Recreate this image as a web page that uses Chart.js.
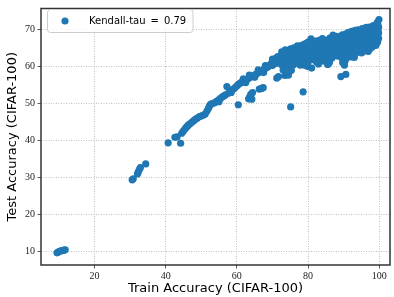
<!DOCTYPE html>
<html>
<head>
<meta charset="utf-8">
<script src="https://cdn.jsdelivr.net/npm/chart.js@4.4.1/dist/chart.umd.min.js"></script>
<style>
  html, body { margin: 0; padding: 0; background: #fff; }
  canvas { display: block; }
</style>
</head>
<body>
<canvas id="scatter" width="394" height="297"></canvas>
<script>
// train / test accuracy pairs
const kendallTau = 0.79;
const xTicks = [20, 40, 60, 80, 100];
const yTicks = [10, 20, 30, 40, 50, 60, 70];

const lowCluster = [[9.5,9.6],[9.8,9.8],[10.2,10.0],[10.6,10.1],[11.0,10.2],[11.4,10.3],[11.8,10.4]];
const midCluster = [[30.6,29.3],[30.9,29.6],[32.1,30.9],[32.3,31.4],[32.6,32.1],[32.9,32.6],[34.4,33.6]];
const rampRuns = [
  [40.7,39.3],[42.6,40.8],[43.2,40.9],[44.2,39.2],[44.5,41.9],[44.9,42.4],[45.3,42.9],[45.7,43.4],
  [46.1,43.8],[46.5,44.2],[47.0,44.6],[47.5,45.0],[47.9,45.3],[48.4,45.7],[48.9,46.0],[49.5,46.4],
  [50.1,46.6],[50.6,46.8],[51.1,47.1],[51.6,47.9],[52.0,48.6],[52.3,49.2],[52.6,49.7],[53.1,49.9],
  [53.7,50.1],[54.3,50.5],[54.9,50.9],[55.4,51.3],[55.9,51.7],[56.4,52.0],[56.8,52.3],[57.2,54.5],
  [57.6,52.7],[58.1,53.1],[58.6,53.5],[59.1,53.9],[59.6,54.3],[60.1,54.8],[60.5,55.2],[61.0,55.5],
  [61.4,55.7],[61.9,55.9],[62.3,56.2],[62.9,56.5],[63.4,56.8],[64.0,57.1],[64.5,57.4],[65.1,57.7],
  [65.6,58.0],[66.2,58.3],[66.7,58.6],[67.2,58.9],[67.7,59.2],[68.2,59.5],[68.7,59.8],[69.2,60.3],
  [69.7,60.8],[70.2,61.3],[70.6,61.8],[71.1,62.3],
  [55.0,50.4],[58.4,52.9],[61.8,56.6],[63.5,57.6],[66.0,59.0],[68.0,60.2],[70.0,61.9],[71.5,62.6],
  [62.5,55.6],[65.0,57.0],[67.5,58.3],[70.0,60.2],[71.0,60.8]
];
const lowerRuns = [
  [60.4,49.6],[63.3,51.2],[63.6,51.7],[63.9,52.4],[64.2,51.1],[64.4,52.9],[66.3,53.8],[66.9,54.0],
  [67.4,54.2],[71.2,56.8],[71.7,57.2],[73.5,57.5],[74.0,58.0],[74.5,57.6],[75.3,58.9],[75.1,49.0],
  [78.6,53.1],[89.2,57.2],[90.6,57.8],[90.2,60.3],[85.5,60.5]
];
const plateauRuns = [
  [72.0,62.7],[72.3,61.5],[72.7,63.1],[73.0,59.0],[73.1,62.0],[73.5,60.8],[73.8,63.6],[74.2,61.3],
  [74.4,59.9],[74.8,62.4],[75.1,64.7],[75.4,63.2],[75.6,61.6],[75.9,60.4],[76.2,63.9],[76.5,64.3],
  [76.8,62.5],[77.2,61.1],[77.5,63.5],[77.8,60.3],[78.1,62.2],[78.4,64.6],[78.7,63.1],[79.0,65.1],
  [79.3,61.5],[79.6,62.9],[79.9,59.9],[80.2,64.1],[80.4,66.0],[80.8,67.4],[81.1,63.3],[81.5,61.8],
  [81.8,65.3],[82.1,66.8],[82.5,64.2],[82.8,62.5],[83.1,67.0],[83.4,65.1],[83.7,63.4],[84.1,66.8],
  [84.4,61.4],[84.7,64.6],[85.0,62.8],[85.3,66.1],[85.8,64.0],[86.1,67.6],[86.4,65.3],[86.7,62.2],
  [86.9,67.9],[87.2,63.8],[87.5,66.4],[87.8,64.9],[88.1,68.1],[88.3,62.8],[88.6,65.7],[88.9,67.1],
  [89.2,64.0],[89.6,68.5],[89.7,61.0],[90.0,66.3],[90.3,63.2],[90.5,68.7],[90.8,64.9],
  [76.0,65.0],[80.0,61.0],[82.9,60.6],[86.0,61.0],[78.0,65.6],[84.0,67.5],[87.0,68.4],[81.0,59.5],
  [72.6,63.9],[73.6,64.4],[72.5,60.5],[74.0,62.9],[74.6,64.0],[73.0,61.0],
  [77.0,65.5],[78.8,65.9],[79.5,66.2],[80.0,66.5],[76.5,61.5],[78.5,60.6],[79.2,60.2],[76.0,62.2],
  [77.6,62.4],[78.3,61.0],[79.0,63.8],[77.0,64.3],[75.6,62.8],[74.0,60.9],
  [80.5,62.5],[81.0,64.8],[81.6,66.5],[82.0,63.8],[82.3,61.2],[82.7,65.8],[83.2,63.8],[83.6,61.8],
  [84.0,65.5],[84.6,63.0],[85.0,67.0],[85.2,64.3],[85.7,62.6],[86.3,63.8],[86.6,66.3],[87.0,62.9],
  [87.6,67.6],[87.9,63.2],[88.4,64.2],[88.8,66.2],[89.3,62.4],[89.5,65.4],[89.9,67.5],[90.2,65.4],
  [90.6,66.4],[90.8,67.8],[90.4,61.5]
];
const topRuns = [
  [91.0,63.4],[91.0,65.0],[91.0,66.6],[91.0,68.1],[91.2,69.1],
  [92.0,62.5],[92.0,64.1],[92.0,65.6],[92.0,67.1],[92.0,68.5],[92.2,69.4],
  [93.0,62.4],[93.0,63.5],[93.0,65.0],[93.0,66.5],[93.0,68.0],[93.0,69.3],[93.2,69.7],
  [94.0,63.8],[94.0,65.4],[94.0,66.9],[94.0,68.4],[94.0,69.8],
  [95.0,63.6],[95.0,65.0],[95.0,66.5],[95.0,68.0],[95.0,69.4],[95.2,70.2],
  [96.0,64.2],[96.0,65.8],[96.0,67.2],[96.0,68.6],[96.0,70.0],[96.3,70.5],
  [96.9,64.0],[97.0,65.4],[97.0,66.8],[97.0,68.2],[97.0,69.6],[97.2,70.6],
  [98.0,65.2],[98.0,66.5],[98.0,67.8],[98.0,69.2],[98.0,70.4],[98.3,71.0],
  [99.0,65.6],[99.0,67.0],[99.0,68.4],[99.0,69.8],[99.0,71.0],
  [99.5,66.5],[99.5,68.0],[99.5,69.5],[99.6,71.2],[99.4,71.8],[99.9,72.6],
  [99.8,67.5],[99.8,69.0],[99.8,70.5],[91.5,64.2],[93.5,64.2],[95.5,64.5],[97.5,64.8],[90.5,62.0]
];

const blue = '#1f77b4';
const allRuns = [...lowCluster, ...midCluster, ...rampRuns, ...lowerRuns, ...plateauRuns, ...topRuns];

// matplotlib-ish frame + legend box
const framePlugin = {
  id: 'frame',
  afterDraw(chart) {
    const {ctx, chartArea: a} = chart;
    ctx.save();
    ctx.strokeStyle = '#333333';
    ctx.lineWidth = 1.5;
    ctx.strokeRect(a.left, a.top, a.right - a.left, a.bottom - a.top);

    // legend
    const x0 = 47.5, y0 = 9.5, w = 145.5, h = 23, r = 3;
    ctx.beginPath();
    ctx.moveTo(x0 + r, y0);
    ctx.arcTo(x0 + w, y0, x0 + w, y0 + h, r);
    ctx.arcTo(x0 + w, y0 + h, x0, y0 + h, r);
    ctx.arcTo(x0, y0 + h, x0, y0, r);
    ctx.arcTo(x0, y0, x0 + w, y0, r);
    ctx.closePath();
    ctx.fillStyle = 'rgba(255,255,255,0.8)';
    ctx.fill();
    ctx.strokeStyle = '#cccccc';
    ctx.lineWidth = 1;
    ctx.stroke();

    const ds = chart.data.datasets[0];
    ctx.beginPath();
    ctx.arc(65, 21, 3.6, 0, Math.PI * 2);
    ctx.fillStyle = ds.backgroundColor;
    ctx.fill();
    ctx.fillStyle = '#000';
    ctx.font = '10px "DejaVu Sans"';
    ctx.textBaseline = 'middle';
    ctx.textAlign = 'left';
    ctx.fillText(ds.label, 89, 21);
    ctx.restore();
  }
};

const gridOpts = { color: '#b0b0b0', lineWidth: 0.8, tickLength: 3.5, tickColor: '#333', tickWidth: 0.8 };

new Chart(document.getElementById('scatter'), {
  type: 'scatter',
  data: {
    datasets: [{
      label: 'Kendall-tau\u2002=\u2002' + kendallTau.toFixed(2),
      data: allRuns.map(([x, y]) => ({x, y})),
      backgroundColor: blue,
      borderColor: blue,
      borderWidth: 0,
      pointRadius: 3.6
    }]
  },
  options: {
    responsive: false,
    animation: false,
    devicePixelRatio: 1,
    layout: { padding: { top: 4, right: 1, left: 0, bottom: 0 } },
    plugins: { legend: { display: false }, tooltip: { enabled: false } },
    scales: {
      x: {
        type: 'linear',
        min: 5,
        max: 103,
        afterBuildTicks: s => { s.ticks = xTicks.map(v => ({value: v})); },
        afterFit: s => { s.height = 32; },
        grid: gridOpts,
        border: { display: false, dash: [1, 1.5] },
        ticks: { padding: 2, color: '#222', font: { family: '"Liberation Serif"', size: 10 }, maxRotation: 0 },
        title: {
          display: true,
          text: 'Train Accuracy (CIFAR-100)',
          color: '#000',
          font: { family: '"DejaVu Sans"', size: 13 },
          padding: { top: 0, bottom: 0.5 }
        }
      },
      y: {
        type: 'linear',
        min: 6.3,
        max: 75.6,
        afterBuildTicks: s => { s.ticks = yTicks.map(v => ({value: v})); },
        afterFit: s => { s.width = 41; },
        grid: gridOpts,
        border: { display: false, dash: [1, 1.5] },
        ticks: { padding: 2.5, color: '#222', font: { family: '"Liberation Serif"', size: 10 } },
        title: {
          display: true,
          text: 'Test Accuracy (CIFAR-100)',
          color: '#000',
          font: { family: '"DejaVu Sans"', size: 13 },
          padding: { top: 5, bottom: 0 }
        }
      }
    }
  },
  plugins: [framePlugin]
});
</script>
</body>
</html>
